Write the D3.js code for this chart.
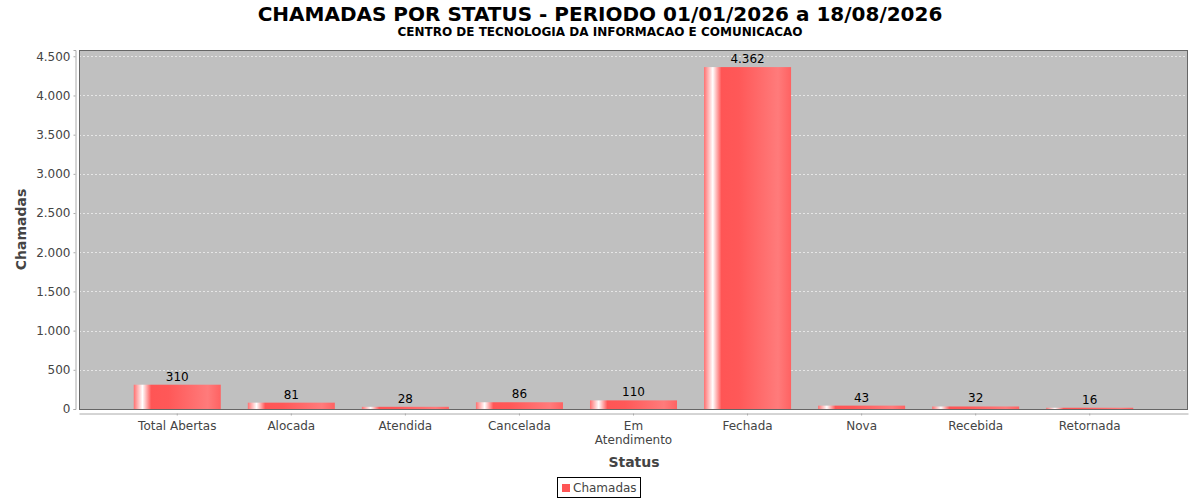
<!DOCTYPE html>
<html lang="pt">
  <head>
    <meta charset="utf-8" />
    <title>Chamadas por status</title>
    <script src="https://d3js.org/d3.v7.min.js"></script>
    <style>
      body { margin: 0; background: #fff; }
      svg { font-family: "DejaVu Sans", sans-serif; display: block; }
      .axis { font-family: "DejaVu Sans", sans-serif; }
      .tick text { fill: #444; font-size: 12px; }
    </style>
  </head>
  <body>
    <svg width="1200" height="500"></svg>
  </body>
  <script>
    // Data to plot
    const categories = ['Total Abertas', 'Alocada', 'Atendida', 'Cancelada', 'Em Atendimento',
                        'Fechada', 'Nova', 'Recebida', 'Retornada'];
    const chamadas = [310, 81, 28, 86, 110, 4362, 43, 32, 16];
    const yTicks = [0, 500, 1000, 1500, 2000, 2500, 3000, 3500, 4000, 4500];

    const svg = d3.select('svg');

    // Plot area
    const plotLeft = 79, plotRight = 1188, plotTop = 50, plotBottom = 409;
    const fmt = d3.formatLocale({ decimal: ',', thousands: '.', grouping: [3] }).format(',d');

    const xScale = d3.scaleBand()
      .domain(categories)
      .range([plotLeft, plotRight])
      .paddingInner(0.237)
      .paddingOuter(0.48);

    const yScale = d3.scaleLinear()
      .domain([0, d3.max(chamadas) * 1.05])
      .range([plotBottom, plotTop]);

    // Gradient like the JFreeChart bar painter
    const defs = svg.append('defs');
    const grad = defs.append('linearGradient').attr('id', 'barGrad')
      .attr('x1', '0%').attr('x2', '100%').attr('y1', '0%').attr('y2', '0%');
    [[0, '#ff7070'], [0.1, '#ffffff'], [0.2, '#ff5555'], [0.4, '#ff5858'], [0.85, '#ff7b7b'], [1, '#ff6262']]
      .forEach(([o, c]) => grad.append('stop').attr('offset', o).attr('stop-color', c));

    // Titles
    svg.append('text').attr('x', 600).attr('y', 21).attr('text-anchor', 'middle')
      .attr('font-size', 20).attr('font-weight', 'bold').attr('fill', '#000')
      .text('CHAMADAS POR STATUS - PERIODO 01/01/2026 a 18/08/2026');
    svg.append('text').attr('x', 600).attr('y', 36).attr('text-anchor', 'middle')
      .attr('font-size', 12).attr('font-weight', 'bold').attr('fill', '#000')
      .text('CENTRO DE TECNOLOGIA DA INFORMACAO E COMUNICACAO');

    // Plot background
    svg.append('rect').attr('x', plotLeft).attr('y', plotTop)
      .attr('width', plotRight - plotLeft).attr('height', plotBottom - plotTop)
      .attr('fill', '#c0c0c0');

    // Horizontal grid lines
    svg.append('g').selectAll('line').data(yTicks.filter(d => d > 0)).join('line')
      .attr('x1', plotLeft).attr('x2', plotRight)
      .attr('y1', d => Math.round(yScale(d)) + 0.5).attr('y2', d => Math.round(yScale(d)) + 0.5)
      .attr('stroke', '#ffffff').attr('stroke-width', 0.6).attr('stroke-dasharray', '2,2');

    // Bars
    svg.append('g').selectAll('rect').data(chamadas).join('rect')
      .attr('x', (d, i) => xScale(categories[i]))
      .attr('y', d => yScale(d))
      .attr('width', xScale.bandwidth())
      .attr('height', d => plotBottom - yScale(d))
      .attr('fill', 'url(#barGrad)');

    // Value labels
    svg.append('g').selectAll('text').data(chamadas).join('text')
      .attr('x', (d, i) => xScale(categories[i]) + xScale.bandwidth() / 2)
      .attr('y', d => yScale(d) - 4)
      .attr('text-anchor', 'middle').attr('font-size', 12).attr('fill', '#000')
      .text(d => fmt(d));

    // Plot border
    svg.append('rect').attr('x', plotLeft + 0.5).attr('y', plotTop + 0.5)
      .attr('width', plotRight - plotLeft - 1).attr('height', plotBottom - plotTop)
      .attr('fill', 'none').attr('stroke', '#666').attr('stroke-width', 1);

    // Y axis
    const yAxis = svg.append('g').attr('class', 'axis')
      .attr('transform', `translate(${plotLeft - 3.5}, 0)`)
      .call(d3.axisLeft(yScale).tickValues(yTicks).tickFormat(fmt).tickSize(2).tickPadding(3));
    yAxis.attr('font-family', null);
    yAxis.select('.domain').attr('stroke', '#aaa');
    yAxis.selectAll('.tick line').attr('stroke', '#aaa');

    // X axis
    const xAxis = svg.append('g').attr('class', 'axis')
      .attr('transform', `translate(0, ${plotBottom + 4.5})`)
      .call(d3.axisBottom(xScale).tickSize(2).tickSizeOuter(0).tickPadding(6));
    xAxis.attr('font-family', null);
    xAxis.select('.domain').attr('stroke', '#aaa');
    xAxis.selectAll('.tick line').attr('stroke', '#aaa');
    xAxis.selectAll('.tick text').each(function (d) {
      if (d === 'Em Atendimento') {
        const t = d3.select(this).text(null);
        d.split(' ').forEach((w, i) => t.append('tspan').attr('x', 0)
          .attr('dy', i === 0 ? '0.71em' : '1.15em').text(w));
      }
    });

    // Axis labels
    svg.append('text').attr('x', 634).attr('y', 467).attr('text-anchor', 'middle')
      .attr('font-size', 14).attr('font-weight', 'bold').attr('fill', '#444').text('Status');
    svg.append('text').attr('transform', `translate(26, ${(plotTop + plotBottom) / 2}) rotate(-90)`)
      .attr('text-anchor', 'middle').attr('font-size', 14).attr('font-weight', 'bold')
      .attr('fill', '#444').text('Chamadas');

    // Legend
    const legend = svg.append('g').attr('transform', 'translate(557, 477)');
    legend.append('rect').attr('x', 0.5).attr('y', 0.5).attr('width', 83).attr('height', 20)
      .attr('fill', '#fff').attr('stroke', '#000');
    legend.append('rect').attr('x', 5).attr('y', 7).attr('width', 8).attr('height', 8).attr('fill', '#ff5555');
    legend.append('text').attr('x', 16).attr('y', 15).attr('font-size', 12).attr('fill', '#444').text('Chamadas');
  </script>
</html>
